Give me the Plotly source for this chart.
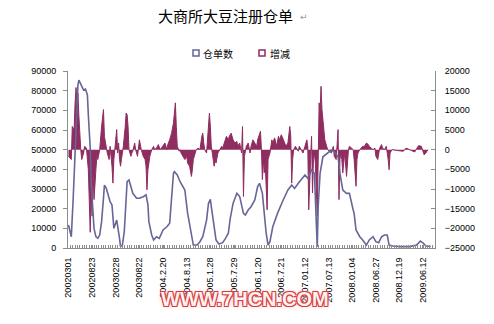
import plotly.graph_objects as go

# Category axis: one slot per weekly report, labelled every 25 weeks
tick_labels = [
    "20020301", "20020823", "20030228", "20030822", "2004.2.20", "2004.8.13",
    "2005.1.28", "2005.7.29", "2006.1.20", "2006.7.21", "2007.01.12", "2007.07.13",
    "2008.01.04", "2008.06.27", "2008.12.19", "2009.06.12",
]
label_step = 25
n_weeks = 388

# 仓单数 (registered warehouse receipts), left axis
stock_week = [
    0, 3, 5, 7, 9, 10, 11, 14, 16, 18, 20, 21, 23, 24, 26, 27, 29, 31, 33, 35,
    37, 38, 40, 42, 44, 46, 47, 48, 51, 52, 54, 55, 57, 59, 61, 62, 64, 66, 68, 72,
    75, 79, 82, 84, 85, 88, 90, 93, 96, 100, 104, 107, 109, 111, 112, 115, 118, 121, 123, 126,
    130, 132, 136, 139, 142, 146, 148, 150, 151, 154, 156, 159, 163, 166, 169, 171, 174, 178, 181, 185,
    187, 190, 193, 197, 200, 202, 205, 207, 209, 211, 213, 216, 221, 227, 232, 236, 239, 243, 246, 250,
    253, 257, 260, 261, 263, 264, 266, 269, 273, 278, 281, 285, 287, 290, 294, 297, 301, 302, 304, 308,
    311, 315, 318, 322, 325, 328, 331, 334, 337, 339, 343, 350, 361, 368, 372, 375, 378, 383,
]
stock_value = [
    11700, 5750, 25300, 50700, 72700, 82900, 85400, 82000, 80300, 80800, 77800, 67600, 50700, 33700, 20200, 10000, 5750, 4900, 6600, 13400,
    25300, 32000, 30400, 26100, 23500, 21900, 16800, 10000, 14200, 11700, 4900, 700, 1500, 8300, 21900, 33700, 34600, 31200, 27800, 25300,
    25300, 26100, 27000, 21900, 13400, 6600, 4100, 5750, 4900, 9200, 10800, 12600, 24400, 38000, 38800, 37100, 33700, 31500, 29500, 17600,
    5750, 1500, 1500, 3200, 5750, 14200, 22700, 24700, 21000, 10800, 4100, 2000, 2700, 4900, 7500, 15000, 22700, 27800, 26100, 17600,
    16800, 19300, 21000, 24400, 31200, 32900, 27800, 17600, 7500, 1500, 3200, 10800, 17600, 24400, 29500, 32000, 30300, 32900, 34600, 37100,
    35400, 39700, 38000, 24400, 700, 21000, 38000, 46400, 48100, 49800, 49000, 46400, 38000, 29500, 27800, 27800, 19300, 17600, 9200, 5750,
    4100, 1500, 4100, 5750, 3200, 2700, 5750, 6600, 6600, 1500, 1000, 700, 700, 1500, 3500, 2500, 1000, 800,
]

# 增减 (weekly change), right axis
change_week = [
    0, 2, 3, 4, 6, 7, 8, 9, 10, 11, 12, 13, 14, 16, 17, 19, 21, 22, 23, 24,
    25, 26, 27, 29, 30, 31, 33, 35, 37, 38, 40, 41, 43, 44, 46, 47, 48, 50, 51, 52,
    53, 54, 55, 56, 58, 60, 61, 62, 63, 64, 66, 67, 68, 70, 71, 73, 74, 75, 77, 79,
    81, 82, 83, 84, 86, 88, 90, 91, 93, 95, 97, 98, 100, 102, 104, 105, 107, 109, 111, 112,
    113, 114, 115, 117, 118, 119, 121, 123, 125, 126, 128, 130, 131, 132, 134, 135, 137, 139, 141, 142,
    143, 144, 146, 148, 149, 150, 151, 153, 154, 155, 156, 158, 160, 162, 163, 165, 167, 169, 170, 172,
    174, 176, 178, 179, 181, 183, 184, 185, 186, 188, 190, 192, 193, 195, 197, 199, 200, 202, 203, 204,
    205, 206, 207, 208, 209, 210, 211, 213, 215, 216, 218, 220, 222, 223, 225, 227, 229, 230, 232, 234,
    235, 236, 237, 238, 240, 241, 243, 244, 246, 248, 250, 252, 253, 254, 256, 257, 258, 259, 260, 261,
    263, 264, 265, 266, 267, 268, 270, 271, 273, 274, 276, 278, 280, 281, 283, 284, 285, 286, 287, 288,
    289, 290, 291, 292, 294, 295, 296, 297, 299, 301, 302, 304, 305, 306, 308, 310, 311, 313, 315, 317,
    318, 320, 322, 324, 325, 327, 329, 331, 332, 334, 336, 338, 339, 340, 342, 347, 354, 357, 361, 366,
    370, 373, 376, 378, 380,
]
change_value = [
    -1700, -2100, -2500, 5900, 5100, 11900, 15800, 11000, 14400, 8500, 1700, 0, -2500, -850, 850, 400, -5100, -17800, -21000, -11000,
    -16900, -5900, -12700, -5100, -1700, -2500, 0, 5900, 10200, 3400, 0, -850, -2500, 850, -4200, -8500, -2500, 3400, 5100, -850,
    1700, -2500, -4200, -2500, 850, 5900, 9300, 8900, 5900, 0, -1700, -850, -400, 1700, 0, -1700, 1700, 2500, 0, -1700,
    -2500, -4200, -10200, -5100, -1700, 0, 850, 0, 400, 1300, 0, 400, 850, 1700, 0, 1300, 2500, 4200, 6800, 10200,
    11900, 5900, 850, -400, 0, -850, -1700, -2500, -1700, -3400, -4200, -6800, -5100, -2500, -850, 0, 400, 0, 3400, 4200,
    1700, 0, -850, 5100, 9300, 5900, 850, -2500, -4200, -2500, -3400, -850, 0, 850, 400, 1700, 3400, 2500, 3400, 4200,
    2500, 1700, 2100, 850, 1700, -850, 5900, -11900, -1700, 850, 1700, -850, 850, 2500, 1700, 850, 2500, 4200, 4700, 0,
    -7600, -2500, -5900, -3400, -9300, -15300, -2500, -850, 2500, 1700, 3000, 850, 3400, 2500, 3800, 2500, 1700, 850, 1700, 5900,
    3400, -8500, -2500, 0, 850, 400, -400, 850, 0, -850, 850, 2500, 850, -15300, -2500, 3400, -11000, -2500, -850, -3400,
    -16900, 1700, 11900, 9300, 16100, 10200, 5900, 2500, 850, 0, -400, -850, 850, -1700, -2500, 850, 5100, -12700, -2500, -850,
    -2500, -5900, -2500, -850, -6800, -2500, 0, 850, 400, 0, -2500, -9300, -2500, -850, 0, 400, 850, 850, 1700, 1300,
    850, 400, 0, 400, -1700, -2500, 400, 1300, 400, 0, 850, -2500, -5100, -850, 0, -200, -400, 400, 0, -600,
    1000, 900, -1300, -800, 0,
]

SLATE = "#666699"
MAROON = "#8f2d60"
AXIS = "#8c8c8c"
TICK_FONT = dict(family="Liberation Sans, Arial, sans-serif", size=9, color="#000000")
CJK = "Noto Sans CJK SC"

fig = go.Figure()

# change series: filled columns around zero (base y axis, right side)
fig.add_trace(go.Scatter(
    x=change_week, y=change_value, name="增减", yaxis="y",
    mode="lines", line=dict(color=MAROON, width=1),
    fill="tozeroy", fillcolor=MAROON, showlegend=False, hoverinfo="skip",
))
# receipt count line (overlaying axis on the left, drawn above the fill)
fig.add_trace(go.Scatter(
    x=stock_week, y=stock_value, name="仓单数", yaxis="y2",
    mode="lines", line=dict(color=SLATE, width=1.6),
    showlegend=False, hoverinfo="skip",
))

# plot-area pixel frame
L, R, T, B = 68, 435, 71, 248
W, H = 494, 324

def px(x):
    return (x - L) / (R - L)

def py(y):
    return (B - y) / (B - T)

fig.update_layout(
    width=W, height=H,
    margin=dict(l=L, r=W - R, t=T, b=H - B, pad=0),
    paper_bgcolor="white", plot_bgcolor="white",
    showlegend=False,
    xaxis=dict(
        range=[-0.5, n_weeks - 0.5],
        tickmode="array",
        tickvals=[i * label_step for i in range(len(tick_labels))],
        ticktext=tick_labels,
        tickangle=-90, tickfont=TICK_FONT,
        showline=True, linecolor=AXIS, linewidth=1,
        ticks="inside", ticklen=3, tickcolor=AXIS,
        minor=dict(tick0=-0.5, dtick=2.5, ticks="inside", ticklen=3, tickcolor=AXIS, showgrid=False),
        ticklabelstandoff=5,
        showgrid=False, zeroline=False, fixedrange=True,
    ),
    yaxis=dict(
        side="right", range=[-25000, 20000], dtick=5000, tick0=0,
        tickformat="d", tickfont=TICK_FONT,
        showline=True, linecolor=AXIS, linewidth=1,
        ticks="inside", ticklen=4, tickcolor=AXIS, ticklabelstandoff=7,
        showgrid=False, zeroline=False, fixedrange=True,
    ),
    yaxis2=dict(
        overlaying="y", side="left", range=[0, 90000], dtick=10000, tick0=0,
        tickformat="d", tickfont=TICK_FONT,
        showline=True, linecolor=AXIS, linewidth=1,
        ticks="outside", ticklen=4, tickcolor=AXIS, ticklabelstandoff=5,
        showgrid=False, zeroline=False, fixedrange=True,
    ),
)

annotations = [
    dict(text="大商所大豆注册仓单", x=px(225.5), y=py(15), xref="paper", yref="paper",
         showarrow=False, xanchor="center", yanchor="middle",
         font=dict(family=CJK, size=15, color="#000000")),
    dict(text="↵", x=px(298), y=py(17), xref="paper", yref="paper",
         showarrow=False, xanchor="left", yanchor="middle",
         font=dict(family="DejaVu Sans", size=9, color="#9a9a9a")),
    dict(text="仓单数", x=px(201), y=py(53), xref="paper", yref="paper",
         showarrow=False, xanchor="left", yanchor="middle",
         font=dict(family=CJK, size=10, color="#000000")),
    dict(text="增减", x=px(268), y=py(53), xref="paper", yref="paper",
         showarrow=False, xanchor="left", yanchor="middle",
         font=dict(family=CJK, size=10, color="#000000")),
    dict(text="<b>WWW.7HCN.COM</b>", x=px(245), y=py(299), xref="paper", yref="paper",
         showarrow=False, xanchor="center", yanchor="middle",
         font=dict(family="Liberation Sans, Arial, sans-serif", size=20, color="#fff2f2",
                   shadow="-1px -1px 0 #d83c3c, 1px -1px 0 #d83c3c, -1px 1px 0 #d83c3c, "
                          "1px 1px 0 #d83c3c, 0 0 4px #f2a0a0")),
]
fig.update_layout(annotations=annotations)

# legend keys
for x0, color in [(193, SLATE), (259, MAROON)]:
    fig.add_shape(type="rect", xref="paper", yref="paper",
                  x0=px(x0), x1=px(x0 + 6), y0=py(56), y1=py(50),
                  line=dict(color=color, width=1.5), fillcolor="white")

fig.write_html("out.html")
